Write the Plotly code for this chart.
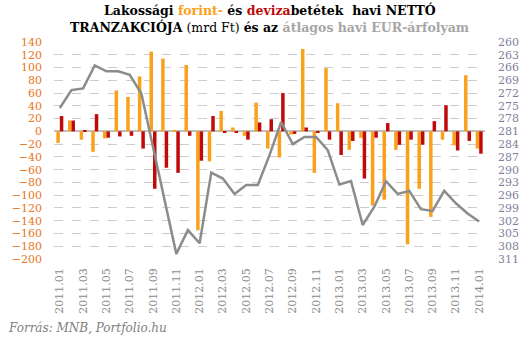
import plotly.graph_objects as go

categories = [f"{y}.{m:02d}" for y in (2011, 2012, 2013) for m in range(1, 13)] + ["2014.01"]

forint = [-18, 17, -13, -32, -11, 64, 54, 86, 125, 114, 2, 104,
          -155, -47, 32, 6, -7, 45, -27, -41, -5, 129, -65, 99,
          44, -29, -10, -116, -107, -29, -177, -90, -134, -13, -22, 88,
          -27]
deviza = [24, 17, 2, 27, -10, -8, -7, -27, -90, -57, -65, -7,
          -46, 24, -2, -2, -13, 14, 19, 60, -4, 6, -2, -13,
          -37, -15, -74, -10, 13, -21, -13, -21, 16, 41, -30, -15,
          -35]
eur = [275.5, 271.3, 270.9, 265.5, 266.9, 266.9, 267.7, 272.1, 284.7, 297.3, 309.8, 304.2,
       307.3, 290.7, 292.1, 295.7, 293.6, 293.6, 286.6, 278.8, 284.0, 282.3, 282.3, 285.4,
       293.5, 292.7, 303.0, 298.7, 292.7, 295.7, 295.0, 299.3, 299.7, 295.0, 297.9, 300.3,
       302.2]

left_ticks = list(range(-200, 141, 20))
right_ticks = list(range(260, 312, 3))
x_ticks = categories[::2]

SERIF = "DejaVu Serif"
H, T, B = 342, 42, 83
PH = H - T - B


def py(pixel_y):
    return (H - B - pixel_y) / PH


fig = go.Figure()
fig.add_trace(go.Bar(x=categories, y=forint, name="forint", marker_color="#F9A11B",
                     marker_line_width=0))
fig.add_trace(go.Bar(x=categories, y=deviza, name="deviza", marker_color="#C00A0A",
                     marker_line_width=0))
fig.add_trace(go.Scatter(x=categories, y=eur, name="EUR", mode="lines", yaxis="y2",
                         line=dict(color="#8C8C8C", width=2.5)))

title1 = ("<b>Lakossági <span style='color:#F9A11B'>forint-</span> és "
          "<span style='color:#C00A0A'>deviza</span>betétek  havi NETTÓ</b>")
title2 = ("<b>TRANZAKCIÓJA</b> (mrd Ft) <b>és az "
          "<span style='color:#A6A6A6'>átlagos havi EUR-árfolyam</span></b>")

fig.update_layout(
    width=531, height=H,
    margin=dict(l=43, r=38, t=T, b=B),
    paper_bgcolor="white", plot_bgcolor="white",
    showlegend=False,
    barmode="group", bargap=0.4, bargroupgap=0,
    xaxis=dict(type="category", categoryorder="array", categoryarray=categories,
               range=[-0.5, len(categories) - 0.5],
               tickmode="array", tickvals=x_ticks, ticktext=x_ticks,
               tickangle=-90, tickfont=dict(family=SERIF, size=11, color="#8C8C8C"),
               showgrid=False, zeroline=False, showline=False, ticks="",
               ticklabelstandoff=6),
    yaxis=dict(range=[-200, 140], tickmode="array", tickvals=left_ticks,
               tickfont=dict(family=SERIF, size=11, color="#E8761C"),
               showgrid=True, gridcolor="#CCCCCC", griddash="dash", gridwidth=1,
               zeroline=True, zerolinecolor="#BFBFBF", zerolinewidth=1.5,
               showline=False, ticklabelstandoff=11),
    yaxis2=dict(range=[311, 260], overlaying="y", side="right",
                tickmode="array", tickvals=right_ticks,
                tickfont=dict(family=SERIF, size=11, color="#7F7F9B"),
                showgrid=False, zeroline=False, showline=False, ticklabelstandoff=12),
    annotations=[
        dict(text=title1, xref="paper", yref="paper", x=0.5, y=py(10),
             xanchor="center", yanchor="middle", showarrow=False,
             font=dict(family=SERIF, size=12.5, color="black")),
        dict(text=title2, xref="paper", yref="paper", x=0.5, y=py(27),
             xanchor="center", yanchor="middle", showarrow=False,
             font=dict(family=SERIF, size=12.5, color="black")),
        dict(text="<i>Forrás: MNB, Portfolio.hu</i>", xref="paper", yref="paper",
             x=0, xshift=-48, y=py(328), xanchor="left", yanchor="middle", showarrow=False,
             font=dict(family=SERIF, size=12, color="#808080")),
    ],
)

fig.write_html("out.html")
